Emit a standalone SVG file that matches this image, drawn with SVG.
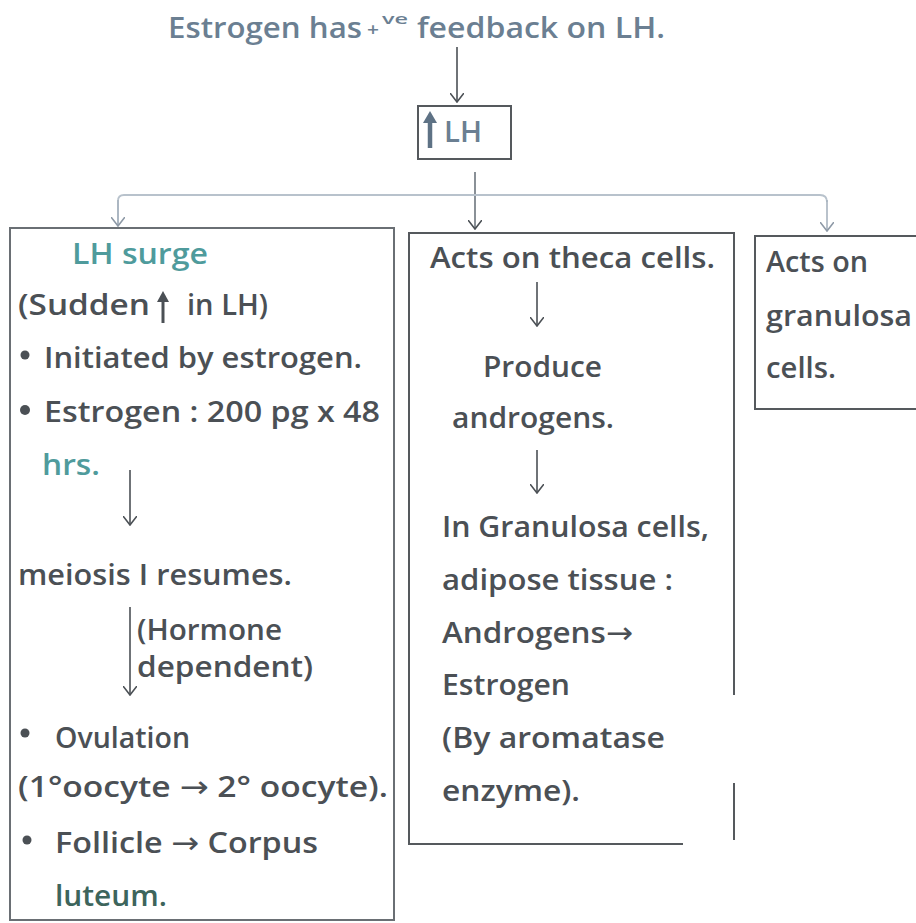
<svg xmlns="http://www.w3.org/2000/svg" width="916" height="923" viewBox="0 0 916 923">
  <defs>
    <marker id="vdown" viewBox="0 0 14 10" refX="7" refY="9" markerWidth="14" markerHeight="10" markerUnits="userSpaceOnUse" orient="0">
      <path d="M0,0 L7,9 L14,0" fill="none" stroke="#4b5055" stroke-width="1.6"/>
    </marker>
    <marker id="vdownLight" viewBox="0 0 14 10" refX="7" refY="9" markerWidth="14" markerHeight="10" markerUnits="userSpaceOnUse" orient="0">
      <path d="M0,0 L7,9 L14,0" fill="none" stroke="#8d99a6" stroke-width="1.6"/>
    </marker>
  </defs>
  <style>
    text { font-family: "Open Sans", "Liberation Sans", sans-serif; font-size: 29px; font-weight: 600; fill: #4b5055; }
    .blue { fill: #6b7f92; }
    .teal { fill: #4f9b9c; }
    .dteal { fill: #3d655c; }
    .arr { font-family: "DejaVu Sans", sans-serif; font-size: 30px; font-weight: 400; }
    .box { fill: none; stroke: #55595d; stroke-width: 2; }
    .arrow { fill: none; stroke: #4b5055; stroke-width: 1.6; marker-end: url(#vdown); }
    .light { fill: none; stroke: #b8c2cc; stroke-width: 1.8; }
    .lightArrow { fill: none; stroke: #a8b3bf; stroke-width: 1.6; marker-end: url(#vdownLight); }
    .bullet { fill: #4b5055; }
  </style>
  <rect width="916" height="923" fill="#ffffff"/>

  <!-- heading -->
  <g id="heading">
    <text class="blue" x="168" y="38" textLength="194" lengthAdjust="spacingAndGlyphs">Estrogen has</text>
    <text class="blue" x="367" y="36" style="font-size:18px" textLength="12" lengthAdjust="spacingAndGlyphs">+</text>
    <text class="blue" x="382" y="24" style="font-size:15px" textLength="26" lengthAdjust="spacingAndGlyphs">ve</text>
    <text class="blue" x="417" y="38" textLength="248" lengthAdjust="spacingAndGlyphs">feedback on LH.</text>
  </g>

  <!-- rising LH -->
  <g id="lh-box">
    <rect class="box" x="418" y="106" width="93" height="53"/>
    <line x1="430" y1="148" x2="430" y2="118" stroke="#5e7285" stroke-width="4.5"/>
    <path d="M423,123 L430,111 L437,123 Z" fill="#5e7285"/>
    <text class="blue" x="444" y="142" style="font-size:28px" textLength="38" lengthAdjust="spacingAndGlyphs">LH</text>
  </g>

  <!-- connectors -->
  <g id="connectors">
    <line class="arrow" x1="457" y1="47" x2="457" y2="102"/>
    <line class="arrow" x1="475" y1="172" x2="475" y2="229" style="stroke:#6d757d"/>
    <path class="light" d="M118,225 V201 Q118,195 124,195 H820 Q827,195 827,202"/>
    <line class="lightArrow" x1="118" y1="200" x2="118" y2="226"/>
    <line class="lightArrow" x1="827" y1="200" x2="827" y2="231"/>
  </g>

  <!-- LH surge -->
  <g id="lh-surge">
    <rect class="box" x="10" y="228" width="384" height="692" style="stroke:#6a6f74"/>
    <text class="teal" x="72" y="264" textLength="136" lengthAdjust="spacingAndGlyphs">LH surge</text>
    <text x="18" y="315" textLength="132" lengthAdjust="spacingAndGlyphs">(Sudden</text>
    <line x1="163" y1="323" x2="163" y2="298" stroke="#4b5055" stroke-width="3"/>
    <path d="M157,302 L163,291 L169,302 Z" fill="#4b5055"/>
    <text x="187" y="315" textLength="81" lengthAdjust="spacingAndGlyphs">in LH)</text>
    <circle class="bullet" cx="25" cy="355" r="4.5"/>
    <text x="44" y="368" textLength="318" lengthAdjust="spacingAndGlyphs">Initiated by estrogen.</text>
    <circle class="bullet" cx="25" cy="410" r="5"/>
    <text x="44" y="422" textLength="336" lengthAdjust="spacingAndGlyphs">Estrogen : 200 pg x 48</text>
    <text class="teal" x="42" y="475" textLength="58" lengthAdjust="spacingAndGlyphs">hrs.</text>
    <line class="arrow" x1="130" y1="470" x2="130" y2="525"/>
    <text x="18" y="585" textLength="274" lengthAdjust="spacingAndGlyphs">meiosis I resumes.</text>
    <line class="arrow" x1="130" y1="607" x2="130" y2="695"/>
    <text x="137" y="640" textLength="145" lengthAdjust="spacingAndGlyphs">(Hormone</text>
    <text x="137" y="677" textLength="176" lengthAdjust="spacingAndGlyphs">dependent)</text>
    <circle class="bullet" cx="25" cy="733" r="4.5"/>
    <text x="55" y="748" textLength="135" lengthAdjust="spacingAndGlyphs">Ovulation</text>
    <text x="18" y="797" textLength="370" lengthAdjust="spacingAndGlyphs">(1°oocyte <tspan class="arr">→</tspan> 2° oocyte).</text>
    <circle class="bullet" cx="27" cy="840" r="4.5"/>
    <text x="55" y="853" textLength="263" lengthAdjust="spacingAndGlyphs">Follicle <tspan class="arr">→</tspan> Corpus</text>
    <text class="dteal" x="55" y="906" textLength="112" lengthAdjust="spacingAndGlyphs">luteum.</text>
  </g>

  <!-- theca cells -->
  <g id="theca-cells">
    <path class="box" d="M734,695 V233 H409 V844 H683"/>
    <line x1="734" y1="783" x2="734" y2="840" stroke="#55595d" stroke-width="2"/>
    <text x="430" y="268" textLength="285" lengthAdjust="spacingAndGlyphs">Acts on theca cells.</text>
    <line class="arrow" x1="537" y1="282" x2="537" y2="326"/>
    <text x="483" y="377" textLength="119" lengthAdjust="spacingAndGlyphs">Produce</text>
    <text x="452" y="428" textLength="162" lengthAdjust="spacingAndGlyphs">androgens.</text>
    <line class="arrow" x1="537" y1="450" x2="537" y2="493"/>
    <text x="442" y="537" textLength="267" lengthAdjust="spacingAndGlyphs">In Granulosa cells,</text>
    <text x="442" y="590" textLength="231" lengthAdjust="spacingAndGlyphs">adipose tissue :</text>
    <text x="442" y="643" textLength="191" lengthAdjust="spacingAndGlyphs">Androgens<tspan class="arr">→</tspan></text>
    <text x="442" y="695" textLength="128" lengthAdjust="spacingAndGlyphs">Estrogen</text>
    <text x="442" y="748" textLength="223" lengthAdjust="spacingAndGlyphs">(By aromatase</text>
    <text x="442" y="801" textLength="138" lengthAdjust="spacingAndGlyphs">enzyme).</text>
  </g>

  <!-- granulosa cells -->
  <g id="granulosa-cells">
    <path class="box" d="M918,236 H755 V409 H918"/>
    <text x="766" y="272" textLength="102" lengthAdjust="spacingAndGlyphs">Acts on</text>
    <text x="766" y="326" textLength="146" lengthAdjust="spacingAndGlyphs">granulosa</text>
    <text x="766" y="378" textLength="70" lengthAdjust="spacingAndGlyphs">cells.</text>
  </g>
</svg>
